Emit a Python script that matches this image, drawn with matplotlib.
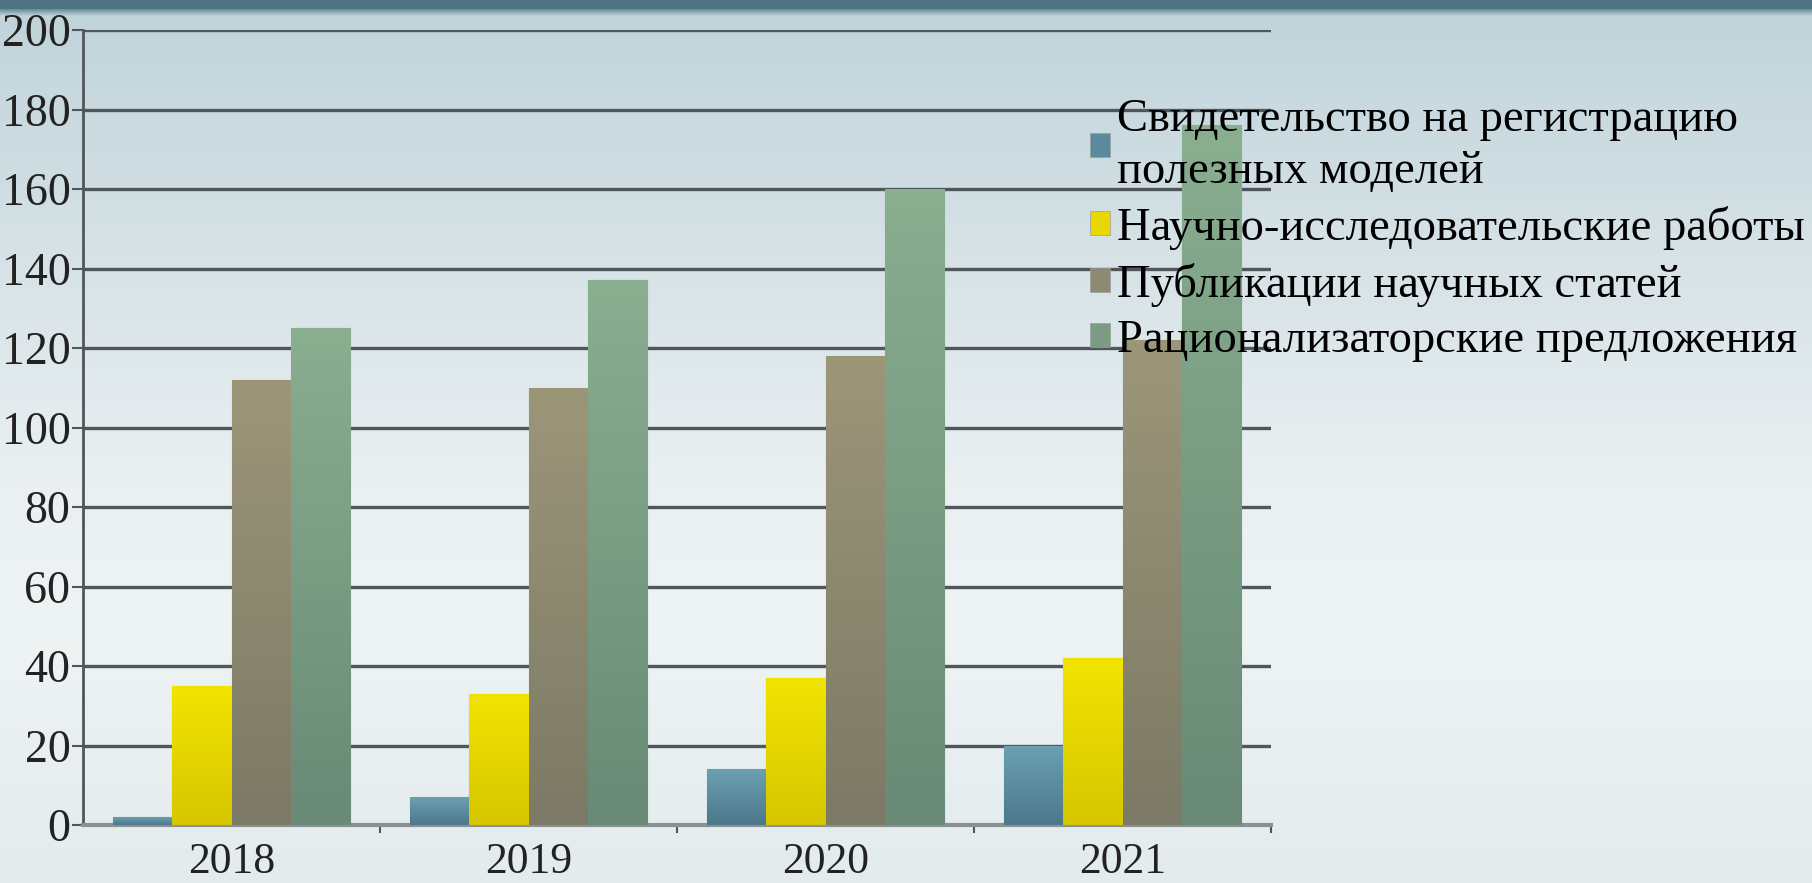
import numpy as np
import matplotlib.pyplot as plt
from matplotlib.patches import Patch, Rectangle
from matplotlib.colors import LinearSegmentedColormap

years = ["2018", "2019", "2020", "2021"]
series_names = [
    "Свидетельство на регистрацию\nполезных моделей",
    "Научно-исследовательские работы",
    "Публикации научных статей",
    "Рационализаторские предложения",
]
certificates = [2, 7, 14, 20]
research = [35, 33, 37, 42]
articles = [112, 110, 118, 122]
proposals = [125, 137, 160, 176]
y_ticks = [0, 20, 40, 60, 80, 100, 120, 140, 160, 180, 200]

# top / bottom colour of each series (bars have a soft vertical gradient)
top_colors = ["#6aa0b2", "#f2e400", "#9c9679", "#8aae90"]
bottom_colors = ["#4c788a", "#d6c600", "#7c7a66", "#688a76"]
legend_colors = ["#5a8a9c", "#e8d800", "#8c8a70", "#7a9c82"]

plt.rcParams['font.family'] = ['Liberation Serif', 'DejaVu Serif']

fig = plt.figure(figsize=(18.12, 8.83), dpi=100)

# background gradient
bg = fig.add_axes([0, 0, 1, 1], zorder=-10)
stops = [(0.0, "#c0d3da"), (0.55, "#eaf0f2"), (0.72, "#eef3f4"), (1.0, "#e3ebed")]
cmap_bg = LinearSegmentedColormap.from_list("bg", stops)
grad = np.linspace(0, 1, 400).reshape(-1, 1)
bg.imshow(grad, aspect='auto', cmap=cmap_bg, extent=[0, 1, 0, 1], origin='upper')
# dark strip at the top
bg.add_patch(Rectangle((0, 1 - 9 / 883), 1, 9 / 883, color="#4e7380", lw=0))
shade = LinearSegmentedColormap.from_list("sh", ["#6d8a94", "#c0d3da"])
bg.imshow(np.linspace(0, 1, 20).reshape(-1, 1), aspect='auto', cmap=shade,
          extent=[0, 1, 1 - 16 / 883, 1 - 9 / 883], origin='upper')
bg.set_xlim(0, 1)
bg.set_ylim(0, 1)
bg.axis('off')

ax = fig.add_axes([83 / 1812, 58 / 883, (1271 - 83) / 1812, (825 - 30) / 883])
ax.patch.set_alpha(0)

x = np.arange(len(years))
width = 0.2
data = [certificates, research, articles, proposals]
for i, vals in enumerate(data):
    offset = (i - 1.5) * width
    bars = ax.bar(x + offset, vals, width, color=legend_colors[i],
                  edgecolor="#7f8486", linewidth=0.8, zorder=3)
    cm = LinearSegmentedColormap.from_list("s%d" % i, [bottom_colors[i], top_colors[i]])
    for b in bars:
        x0 = b.get_x()
        h = b.get_height()
        im = ax.imshow(np.linspace(0, 1, 100).reshape(-1, 1), aspect='auto', cmap=cm,
                       extent=[x0, x0 + width, 0, h], origin='lower', zorder=3.5)
        im.set_clip_path(b)

ax.set_xlim(-0.5, len(years) - 0.5)
ax.set_ylim(0, 200)

ax.set_yticks(y_ticks)
ax.set_yticklabels([str(v) for v in y_ticks], fontsize=33, color="#222222")
ax.yaxis.grid(True, color="#50575b", linewidth=2.4, zorder=1)
ax.set_axisbelow(True)
ax.tick_params(axis='y', length=8, width=1.5, color="#50575b", pad=1)

ax.set_xticks(x)
ax.set_xticklabels(years, fontsize=31.5, color="#222222")
ax.set_xticks(np.arange(len(years)) + 0.5, minor=True)
ax.tick_params(axis='x', which='major', length=0, pad=12)
ax.tick_params(axis='x', which='minor', length=6, width=1.5, color="#50575b")

for s in ['top', 'right']:
    ax.spines[s].set_visible(False)
ax.spines['left'].set_color("#50575b")
ax.spines['left'].set_linewidth(2)
ax.spines['bottom'].set_color("#8a9194")
ax.spines['bottom'].set_linewidth(3)

handles = [Patch(facecolor=c, edgecolor="#9aa0a2", linewidth=0.5) for c in legend_colors]
leg = fig.legend(handles, series_names, loc='upper left',
                 bbox_to_anchor=(1090 / 1812, 1 - 98 / 883), frameon=False,
                 fontsize=33.5, handlelength=0.42, handleheight=0.42, handletextpad=0.15,
                 labelspacing=0.27, borderpad=0, borderaxespad=0)
leg.get_texts()[0].set_linespacing(1.32)

fig.savefig("out.png", dpi=100)
